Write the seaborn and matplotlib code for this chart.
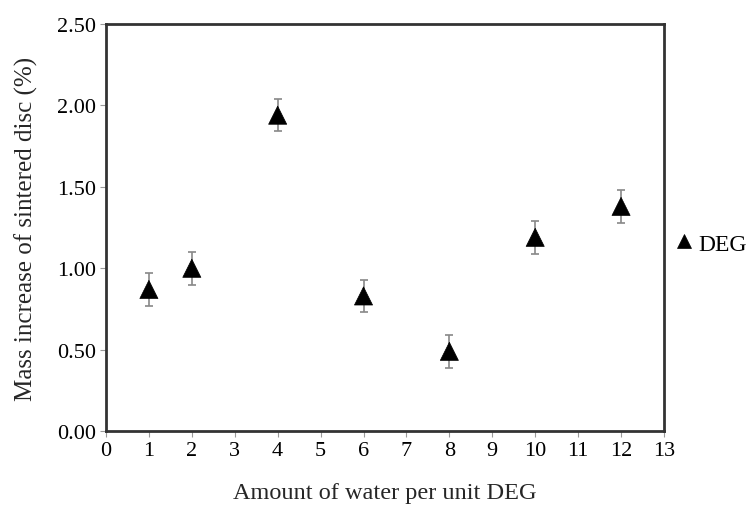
import matplotlib
matplotlib.use("Agg")
import matplotlib.pyplot as plt
import seaborn as sns
import pandas as pd

water = [1, 2, 4, 6, 8, 10, 12]
mass_increase = [0.87, 1.00, 1.94, 0.83, 0.49, 1.19, 1.38]
err = [0.10, 0.10, 0.10, 0.10, 0.10, 0.10, 0.10]
x_ticks = list(range(0, 14))
y_ticks = [0.0, 0.5, 1.0, 1.5, 2.0, 2.5]
y_labels = ["0.00", "0.50", "1.00", "1.50", "2.00", "2.50"]

df = pd.DataFrame({"water": water, "mass": mass_increase, "err": err, "series": "DEG"})

sns.set_theme(style="white")
plt.rcParams["font.family"] = ["Liberation Serif", "DejaVu Serif"]

fig = plt.figure(figsize=(7.5, 5.06), dpi=100)
ax = fig.add_axes([0.1413, 0.146, 0.7440, 0.8046])

ax.errorbar(df["water"], df["mass"], yerr=df["err"], fmt="none", ecolor="#888888",
            elinewidth=1.2, capsize=3, capthick=1.2, zorder=2)
sns.scatterplot(data=df, x="water", y="mass", hue="series", palette=["black"],
                marker="^", s=170, edgecolor="black", linewidth=0.5, ax=ax, zorder=3,
                legend=True)

ax.set_xlim(0, 13)
ax.set_ylim(0, 2.5)
ax.set_xticks(x_ticks)
ax.set_xticklabels([str(t) for t in x_ticks])
ax.set_yticks(y_ticks)
ax.set_yticklabels(y_labels)
ax.tick_params(axis="both", which="major", direction="out", length=4, width=0.8,
               color="#999999", labelsize=16, labelcolor="black", bottom=True, left=True)
ax.tick_params(axis="x", pad=3)
ax.tick_params(axis="y", pad=3)
for s in ax.spines.values():
    s.set_linewidth(2.0)
    s.set_color("#333333")

ax.set_xlabel("Amount of water per unit DEG", fontsize=17.5, labelpad=16)
ax.set_ylabel("Mass increase of sintered disc (%)", fontsize=18, labelpad=14)

handles, labels = ax.get_legend_handles_labels()
ax.get_legend().remove()
leg = fig.legend(handles, labels, loc="center left", bbox_to_anchor=(0.893, 0.516),
                 frameon=False, fontsize=17, handletextpad=0.0, borderaxespad=0.0,
                 borderpad=0.0, markerscale=0.75, handlelength=1.2)
for t in leg.get_texts():
    t.set_color("black")

fig.savefig("out.png", dpi=100)
